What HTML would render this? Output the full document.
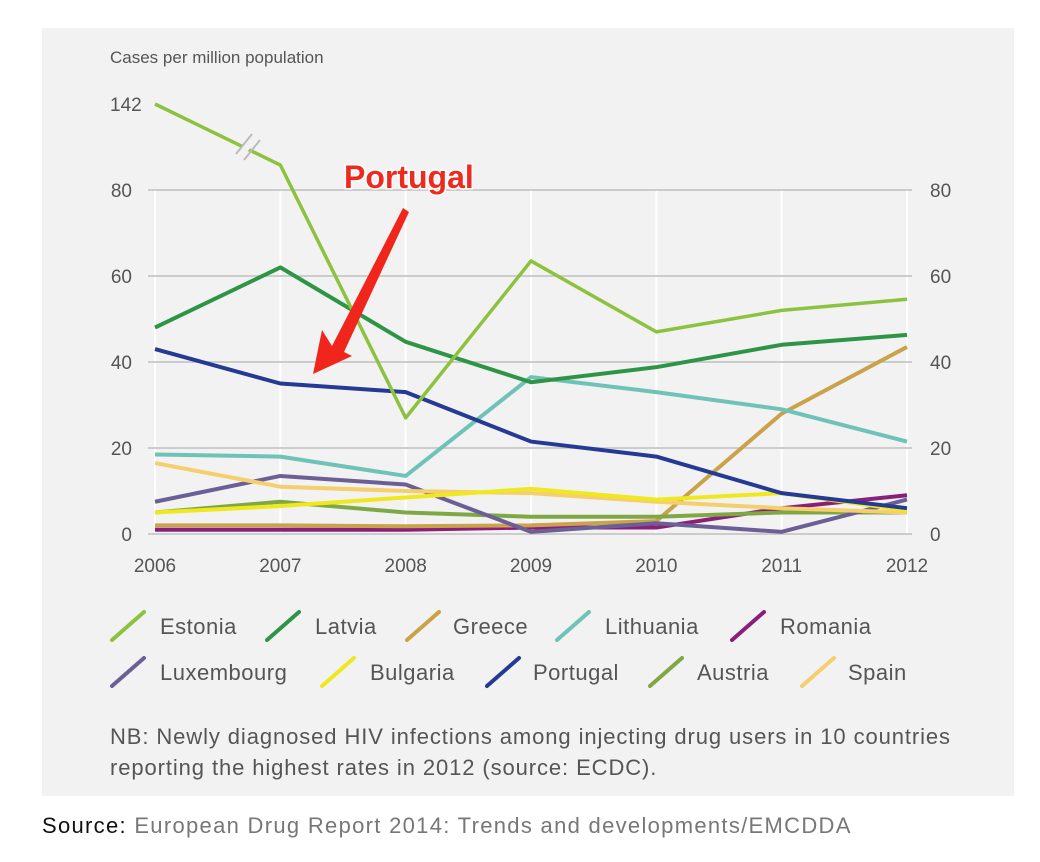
<!DOCTYPE html>
<html><head><meta charset="utf-8">
<style>
html,body{margin:0;padding:0;background:#fff;width:1040px;height:862px;overflow:hidden;font-family:"Liberation Sans",sans-serif;}
#card{position:absolute;left:42px;top:28px;width:972px;height:768px;background:#f2f2f2;}
svg{position:absolute;left:0;top:0;}
.lg{position:absolute;font-size:22px;letter-spacing:0.5px;color:#555;}
#nb{position:absolute;left:110px;top:721px;font-size:22px;letter-spacing:0.9px;line-height:31px;color:#555;}
#src{position:absolute;left:42px;top:813px;font-size:22px;letter-spacing:1.3px;color:#777;}
</style></head><body>
<div id="card"></div>
<svg id="chart" width="1040" height="862"></svg>
<div id="legend"></div>
<div id="nb">NB: Newly diagnosed HIV infections among injecting drug users in 10 countries<br>reporting the highest rates in 2012 (source: ECDC).</div>
<div id="src"><span style="color:#111">Source:</span> European Drug Report 2014: Trends and developments/EMCDDA</div>
<script>
const years=[2006,2007,2008,2009,2010,2011,2012];
const yTicks=[0,20,40,60,80];
const names=["Estonia","Latvia","Greece","Lithuania","Romania","Luxembourg","Bulgaria","Portugal","Austria","Spain"];
const colors=["#8dc23f","#2e9446","#c9a24a","#6fc2b8","#8a1f7a","#6b5f96","#f0e81e","#243a93","#7fa845","#f5cf6e"];
const estonia=[142,98,27,63.5,47,52,54.6];
const latvia=[48,62,44.7,35.3,38.8,44,46.3];
const greece=[2,2,1.8,2,3,28,43.5];
const lithuania=[18.5,18,13.5,36.5,33,29,21.5];
const romania=[1,1,1,1.5,1.5,6,9];
const luxembourg=[7.5,13.5,11.5,0.5,2.5,0.5,8];
const bulgaria=[5,6.5,8.5,10.5,8,9.5,5.5];
const portugal=[43,35,33,21.5,18,9.5,6];
const austria=[5,7.5,5,4,4,5,5];
const spain=[16.5,11,10,9.5,7.5,6,5];
const series=[estonia,latvia,greece,lithuania,romania,luxembourg,bulgaria,portugal,austria,spain];
const drawOrder=[4,2,8,5,9,6,3,7,1,0];
const NS="http://www.w3.org/2000/svg";
const svg=document.getElementById('chart');
function x(i){return 155+i*(907-155)/(years.length-1);}
function y(v){return v<=80?534-v*4.3:190-(v-80)*1.387;}
function mk(t,a){const e=document.createElementNS(NS,t);for(const k in a)e.setAttribute(k,a[k]);svg.appendChild(e);return e;}
years.forEach((yr,i)=>{
 const g=mk('line',{x1:x(i),x2:x(i),y1:190,y2:534,stroke:'#fff','stroke-width':2});
 
 
 const t=mk('text',{x:x(i),y:572,'text-anchor':'middle','font-size':19,fill:'#555','font-family':'Liberation Sans'});
 t.textContent=yr;
 
 
});
yTicks.forEach(v=>{
 const g=mk('line',{x1:148,x2:912,y1:y(v),y2:y(v),stroke:'#ccc','stroke-width':2});
 
 
 const t=mk('text',{x:132,y:y(v)+7,'text-anchor':'end','font-size':19,fill:'#555','font-family':'Liberation Sans'});
 t.textContent=v;
 
 
 const t2=mk('text',{x:930,y:y(v)+7,'text-anchor':'start','font-size':19,fill:'#555','font-family':'Liberation Sans'});
 t2.textContent=v;
 
 
});
const t142=mk('text',{x:110,y:y(142)+7,'font-size':19,fill:'#555','font-family':'Liberation Sans'});
t142.textContent='142';


const yt=mk('text',{x:110,y:63,'font-size':17,fill:'#555','font-family':'Liberation Sans'});
yt.textContent='Cases per million population';


drawOrder.forEach(s=>{
 const pts=series[s].map((v,i)=>x(i)+','+y(v)).join(' ');
 const p=mk('polyline',{points:pts,fill:'none',stroke:colors[s],'stroke-width':s==0?3.5:4,'stroke-linejoin':'round'});
 
 
});
const br=mk('g',{});


br.innerHTML='<line x1="238" y1="156" x2="256" y2="136" stroke="#f2f2f2" stroke-width="8"/><line x1="236" y1="154" x2="252" y2="134" stroke="#bbb" stroke-width="2"/><line x1="244" y1="160" x2="260" y2="140" stroke="#bbb" stroke-width="2"/>';
const ar=mk('g',{});


ar.innerHTML='<polygon points="403,208 409,212 344,352 352,356 313,374 322,330 332,346" fill="#f0261c"/>';
const at=mk('text',{x:344,y:188,'font-size':32,'font-weight':'bold',fill:'#ec2a1f','font-family':'Liberation Sans',stroke:'#fff','stroke-width':3,'paint-order':'stroke'});
at.textContent='Portugal';


const lx=[[110,160],[265,315],[405,453],[555,605],[730,780],[110,160],[320,370],[485,533],[648,697],[800,848]];
const leg=document.getElementById('legend');
names.forEach((n,i)=>{
 const row=i<5?628:674;
 const ic=mk('line',{x1:lx[i][0]+2,y1:row+12,x2:lx[i][0]+34,y2:row-16,stroke:colors[i],'stroke-width':4,'stroke-linecap':'round'});
 
 
 const d=document.createElement('div');
 d.className='lg';
 d.style.left=lx[i][1]+'px';
 d.style.top=(row-14)+'px';
 d.textContent=n;
 
 
 leg.appendChild(d);
});
</script>
</body></html>
